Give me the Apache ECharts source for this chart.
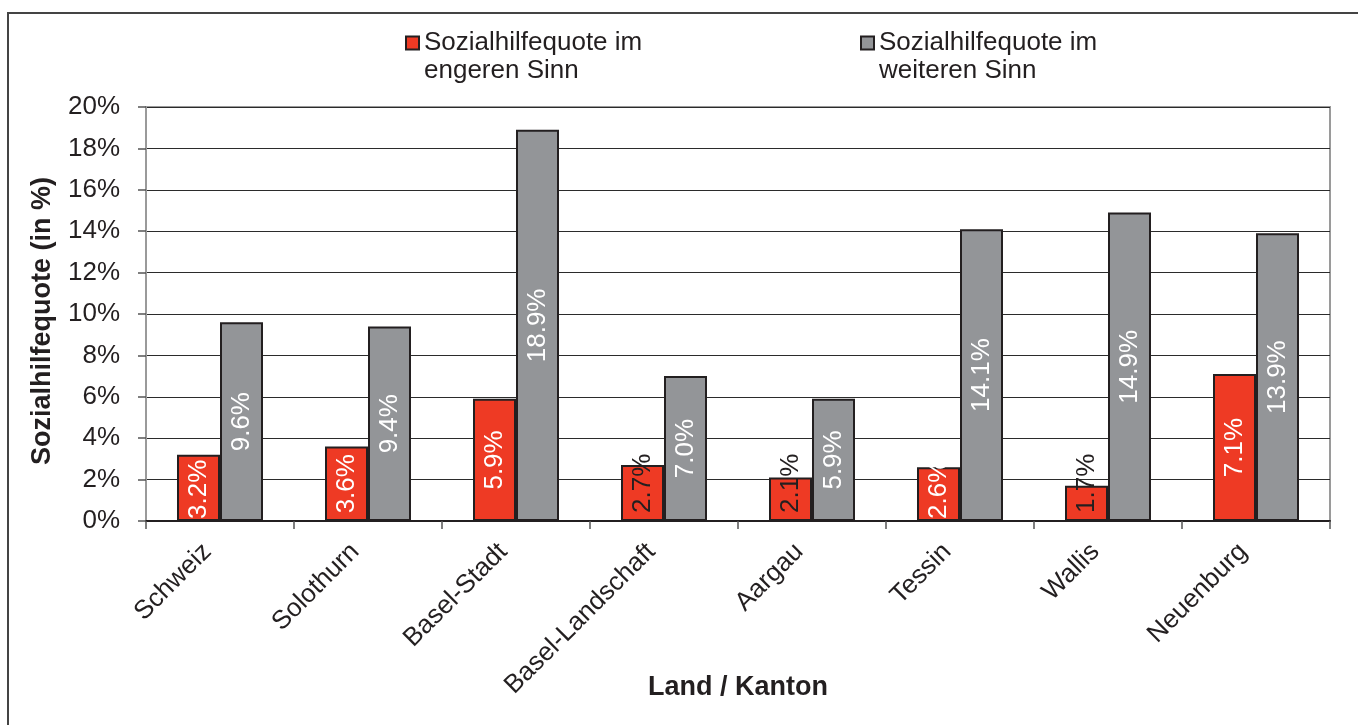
<!DOCTYPE html>
<html>
<head>
<meta charset="UTF-8">
<title>Sozialhilfequote</title>
<script src="https://cdn.jsdelivr.net/npm/echarts@6/dist/echarts.min.js"></script>
<style>
  html, body { margin: 0; padding: 0; background: #fff; }
  #chart { width: 1358px; height: 725px; }
</style>
</head>
<body>
<div id="chart"></div>
<script>
var categories = ['Schweiz', 'Solothurn', 'Basel-Stadt', 'Basel-Landschaft', 'Aargau', 'Tessin', 'Wallis', 'Neuenburg'];
var engeren = [3.2, 3.6, 5.9, 2.7, 2.1, 2.6, 1.7, 7.1];
var weiteren = [9.6, 9.4, 18.9, 7.0, 5.9, 14.1, 14.9, 13.9];
var yTicks = { min: 0, max: 20, step: 2 };

var nameEng = 'Sozialhilfequote im\nengeren Sinn';
var nameWeit = 'Sozialhilfequote im\nweiteren Sinn';

// labels that don't fit in the small red bars
var overflowCats = ['Basel-Landschaft', 'Aargau', 'Wallis'];
var smallCats = ['Schweiz', 'Tessin'];

var font = 'Liberation Sans, Arial, sans-serif';
var ink = '#231f20';

function pct(p) { return p.value.toFixed(1) + '%'; }

var engData = engeren.map(function (v, i) {
  var c = categories[i];
  if (overflowCats.indexOf(c) >= 0) {
    return { value: v, label: { position: 'insideBottom', align: 'left', distance: 8, color: ink } };
  }
  if (smallCats.indexOf(c) >= 0) {
    return { value: v, label: { position: 'insideBottom', align: 'left', distance: 2 } };
  }
  return v;
});

var chart = echarts.init(document.getElementById('chart'));

// square at the top, empty point below, so the marker sits on the first text line
var legendIcon = 'path://M0,0h13v13h-13z M0,41 L0,41';

var legendBase = {
  orient: 'horizontal',
  top: 29,
  padding: 0,
  itemWidth: 13,
  itemHeight: 41,
  icon: legendIcon,
  selectedMode: false,
  textStyle: { fontFamily: font, fontSize: 26, color: ink, lineHeight: 28 }
};

var option = {
  animation: false,
  textStyle: { fontFamily: font },
  graphic: [{
    type: 'rect',
    shape: { x: 8, y: 13, width: 1500, height: 900 },
    style: { fill: 'none', stroke: '#444', lineWidth: 2 },
    silent: true
  }],
  legend: [
    Object.assign({}, legendBase, { left: 405, data: [nameEng] }),
    Object.assign({}, legendBase, { left: 860, data: [nameWeit] })
  ],
  grid: {
    left: 146, right: 28, top: 107, bottom: 204,
    show: true, borderColor: '#9a9a9a', borderWidth: 2,
    containLabel: false,
    outerBoundsMode: 'none'
  },
  xAxis: {
    type: 'category',
    data: categories,
    name: 'Land / Kanton',
    nameLocation: 'middle',
    nameGap: 153,
    nameMoveOverlap: false,
    nameTextStyle: { fontFamily: font, fontSize: 27, fontWeight: 'bold', color: ink },
    axisLine: { lineStyle: { color: ink, width: 2 } },
    axisTick: { show: true, length: 8, lineStyle: { color: '#555', width: 1.5 } },
    axisLabel: {
      rotate: 45, fontSize: 26, color: ink, margin: 14, fontFamily: font, interval: 0,
      padding: [0, 18, 0, 0]
    }
  },
  yAxis: {
    type: 'value',
    min: yTicks.min,
    max: yTicks.max,
    interval: yTicks.step,
    name: 'Sozialhilfequote (in %)',
    nameLocation: 'middle',
    nameGap: 90,
    nameMoveOverlap: false,
    nameTextStyle: { fontFamily: font, fontSize: 27, fontWeight: 'bold', color: ink, padding: [0, 14, 0, 0] },
    axisLine: { show: true, lineStyle: { color: '#9a9a9a', width: 2 } },
    axisTick: { show: true, length: 8, lineStyle: { color: '#555', width: 1.5 } },
    axisLabel: { formatter: '{value}%', fontSize: 26, color: ink, margin: 26, fontFamily: font },
    splitLine: { lineStyle: { color: '#2b2b2b', width: 1.2 } }
  },
  series: [
    {
      name: nameEng,
      type: 'bar',
      data: engData,
      barWidth: 43,
      barGap: '0%',
      itemStyle: { color: '#ee3a24', borderColor: ink, borderWidth: 2 },
      label: {
        show: true, position: 'inside', rotate: 90, formatter: pct,
        fontSize: 26, color: '#fff', fontFamily: font, verticalAlign: 'middle'
      }
    },
    {
      name: nameWeit,
      type: 'bar',
      data: weiteren,
      barWidth: 43,
      itemStyle: { color: '#939598', borderColor: ink, borderWidth: 2 },
      label: {
        show: true, position: 'inside', rotate: 90, formatter: pct,
        fontSize: 26, color: '#fff', fontFamily: font, verticalAlign: 'middle'
      }
    }
  ]
};

chart.setOption(option);
window.onresize = chart.resize;
</script>
</body>
</html>
